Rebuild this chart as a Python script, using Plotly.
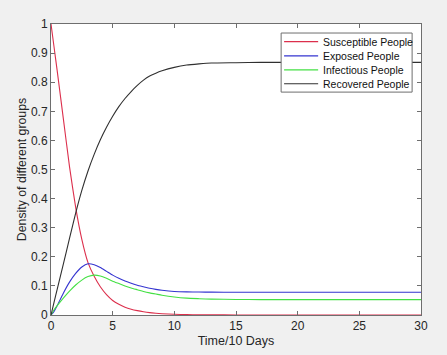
import plotly.graph_objects as go

t = [0, 0.25, 0.5, 1, 1.5, 2, 2.5, 3, 3.5, 4, 4.5, 5, 5.5, 6, 6.5, 7, 7.5, 8, 8.5, 9, 10, 11, 12, 13, 15, 17, 20, 25, 30]

susceptible = [1.0, 0.92, 0.84, 0.675, 0.51, 0.37, 0.26, 0.18, 0.133, 0.097, 0.07, 0.05, 0.037, 0.027, 0.02, 0.015, 0.011, 0.008, 0.006, 0.0045, 0.0025, 0.0014, 0.0008, 0.0005, 0.0002, 0.0001, 0.0, 0.0, 0.0]
exposed = [0.0, 0.012, 0.032, 0.075, 0.113, 0.143, 0.165, 0.176, 0.173, 0.163, 0.15, 0.137, 0.126, 0.117, 0.109, 0.102, 0.097, 0.092, 0.088, 0.085, 0.081, 0.0795, 0.079, 0.0785, 0.078, 0.078, 0.078, 0.078, 0.078]
infectious = [0.0, 0.018, 0.032, 0.058, 0.082, 0.103, 0.12, 0.132, 0.137, 0.134, 0.126, 0.116, 0.108, 0.1, 0.093, 0.087, 0.081, 0.076, 0.072, 0.068, 0.062, 0.058, 0.056, 0.0545, 0.0535, 0.053, 0.053, 0.053, 0.053]
recovered = [0.0, 0.044, 0.088, 0.175, 0.263, 0.35, 0.428, 0.495, 0.552, 0.602, 0.645, 0.683, 0.716, 0.744, 0.768, 0.789, 0.807, 0.821, 0.831, 0.839, 0.851, 0.859, 0.863, 0.866, 0.867, 0.868, 0.868, 0.868, 0.868]

names = ["Susceptible People", "Exposed People", "Infectious People", "Recovered People"]
values = [susceptible, exposed, infectious, recovered]
colors = ["#dc2f4c", "#3434d0", "#44e044", "#303030"]

x_ticks = [0, 5, 10, 15, 20, 25, 30]
y_ticks = [0, 0.1, 0.2, 0.3, 0.4, 0.5, 0.6, 0.7, 0.8, 0.9, 1]
y_tick_labels = ["0", "0.1", "0.2", "0.3", "0.4", "0.5", "0.6", "0.7", "0.8", "0.9", "1"]

fig = go.Figure()
for name, vals, col in zip(names, values, colors):
    fig.add_trace(go.Scatter(x=t, y=vals, mode="lines", name=name, showlegend=False,
                             line=dict(color=col, width=1.1, shape="spline", smoothing=0.5)))

# Compact MATLAB-style legend box (paper coordinates)
box_x0, box_x1, box_y0, box_y1 = 0.622, 0.976, 0.766, 0.969
row_y = [0.9395, 0.8905, 0.8425, 0.7945]
fig.add_shape(type="rect", xref="paper", yref="paper", x0=box_x0, x1=box_x1, y0=box_y0, y1=box_y1,
              fillcolor="white", line=dict(color="#6e6e6e", width=1), layer="above")
for name, col, yy in zip(names, colors, row_y):
    fig.add_shape(type="line", xref="paper", yref="paper", x0=0.630, x1=0.722, y0=yy, y1=yy,
                  line=dict(color=col, width=1.1), layer="above")
    fig.add_annotation(xref="paper", yref="paper", x=0.7285, y=yy, text=name, showarrow=False,
                       xanchor="left", yanchor="middle", font=dict(size=10.5, color="#111111"))

axis_common = dict(showline=True, linecolor="#6e6e6e", linewidth=1, mirror="ticks",
                   ticks="inside", ticklen=4, tickcolor="#6e6e6e", showgrid=False,
                   zeroline=False, automargin=False, tickfont=dict(size=12, color="#262626"))

fig.update_layout(
    width=447, height=355,
    margin=dict(l=51, r=26, t=24, b=40),
    paper_bgcolor="#f0f0f0", plot_bgcolor="white",
    font=dict(family="Liberation Sans, Arial, sans-serif", color="#262626"),
    xaxis=dict(range=[0, 30], tickvals=x_ticks, ticktext=[str(v) for v in x_ticks],
               title=dict(text="Time/10 Days", font=dict(size=12.5), standoff=3), **axis_common),
    yaxis=dict(range=[0, 1], tickvals=y_ticks, ticktext=y_tick_labels,
               title=dict(text="Density of different groups", font=dict(size=12.3), standoff=1), **axis_common),
    showlegend=False,
)

fig.write_html("out.html", config={"displayModeBar": False},
               post_script="document.body.style.margin='0';document.body.style.background='#f0f0f0';")
